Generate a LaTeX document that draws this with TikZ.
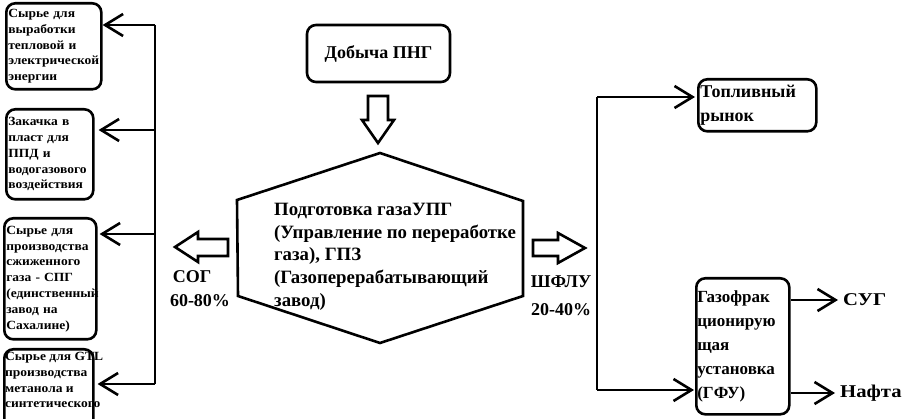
\documentclass[tikz,border=0pt]{standalone}
\usepackage{fontspec}
\setmainfont{Liberation Serif}
\newfontfamily\wideA[FakeStretch=1.15]{Liberation Serif}
\newfontfamily\wideB[FakeStretch=1.08]{Liberation Serif}
\usetikzlibrary{arrows.meta}
\begin{document}
\begin{tikzpicture}[x=1pt,y=-1pt,
  box/.style={draw, line width=2.6pt, rounded corners=9pt, inner sep=2pt, align=left, font=\bfseries},
  small/.style={font=\wideB\bfseries\fontsize{12.5}{15.8}\selectfont},
  big/.style={font=\bfseries\fontsize{18}{24}\selectfont},
  lbl/.style={font=\bfseries\fontsize{18}{24}\selectfont, inner sep=0pt, align=left},
  conn/.style={line width=2.6pt, -{Straight Barb[length=18pt,width=22pt,line width=2.6pt]}},
  hollow/.style={draw, line width=2.6pt, fill=white, line join=miter}]
\useasboundingbox (0,0) rectangle (902,419);

% left boxes
\node[box, small, text width=91, minimum height=86, anchor=north west] (b1) at (5,2)
  {Сырье для\\выработки\\тепловой и\\электрической\\энергии};
\node[box, small, text width=83, minimum height=90, anchor=north west] (b2) at (5,108)
  {Закачка в\\пласт для\\ППД и\\водогазового\\воздействия};
\node[box, small, text width=88, minimum height=121, anchor=north west] (b3) at (3,217)
  {Сырье для\\производства\\сжиженного\\газа - СПГ\\(единственный\\завод на\\Сахалине)};
\node[box, minimum width=89, minimum height=110, anchor=north west] (b4) at (3,348) {};
\node[small, inner sep=0pt, align=left, anchor=north west] (t4) at (5,352)
  {Сырье для GTL\\производства\\метанола и\\синтетического};

% top box
\node[box, font=\bfseries\fontsize{18}{20}\selectfont, minimum width=143, minimum height=57, align=center] (dob) at (378.5,53.5) {Добыча ПНГ};

% down hollow arrow
\draw[hollow] (368,96) -- (388,96) -- (388,120) -- (394,120) -- (378,143) -- (362,120) -- (368,120) -- cycle;

% hexagon
\coordinate (h1) at (380,153);
\coordinate (h2) at (523,201);
\coordinate (h3) at (523,296);
\coordinate (h4) at (380,343);
\coordinate (h5) at (238,296);
\coordinate (h6) at (237,200);
\draw[line width=2.6pt, line join=miter] (h1) -- (h2) -- (h3) -- (h4) -- (h5) -- (h6) -- cycle;
\node[font=\bfseries\fontsize{18.8}{22.7}\selectfont, inner sep=0pt, align=left, anchor=north west] (hex) at (274,203)
  {Подготовка газаУПГ\\(Управление по переработке\\газа), ГПЗ\\(Газоперерабатывающий\\завод)};

% left hollow arrow
\draw[hollow] (228,239) -- (228,256) -- (198,256) -- (198,262) -- (175,247) -- (198,232) -- (198,239) -- cycle;
\node[lbl, anchor=north] (sog) at (192,270) {СОГ};
\node[lbl, anchor=north] (pct1) at (200,294) {60-80\%};

% right hollow arrow
\draw[hollow] (533,240) -- (558,240) -- (558,233) -- (585,248) -- (558,263) -- (558,256) -- (533,256) -- cycle;
\node[lbl, anchor=north] (shf) at (561,276) {ШФЛУ};
\node[lbl, anchor=north] (pct2) at (561,303) {20-40\%};

% left tree
\coordinate (l1) at (155,25);
\coordinate (l2) at (155,130);
\coordinate (l3) at (155,234);
\coordinate (l4) at (155,384);
\draw[line width=2.6pt] (l1) -- (l4);
\draw[conn] (l1) -- (l1 -| b1.east);
\draw[conn] (l2) -- ([xshift=4pt]l2 -| b2.east);
\draw[conn] (l3) -- ([xshift=2pt]l3 -| b3.east);
\draw[conn] (l4) -- ([xshift=3pt]l4 -| b4.east);

% right boxes
\node[box, big, text width=114, minimum height=52, anchor=north west] (top) at (697,78)
  {Топливный\\рынок};
\node[box, font=\bfseries\fontsize{17}{24}\selectfont, text width=91, minimum height=136, anchor=north west, inner sep=1pt] (gfu) at (695,277)
  {Газофрак\\ционирую\\щая\\установка\\(ГФУ)};

\coordinate (r1) at (597,97);
\coordinate (r2) at (597,390);
\draw[line width=2.6pt] (r1) -- (r2);
\draw[conn] (r1) -- ([xshift=-2pt]r1 -| top.west);
\draw[conn] (r2) -- ([xshift=-1pt]r2 -| gfu.west);

\node[lbl, font=\wideA\bfseries\fontsize{18}{24}\selectfont, anchor=west] (sug) at (843,300) {СУГ};
\node[lbl, font=\wideA\bfseries\fontsize{18}{24}\selectfont, anchor=west] (naf) at (840,393) {Нафта};
\draw[conn] (gfu.east |- sug.west) -- ([xshift=-5pt]sug.west);
\draw[conn] (gfu.east |- naf.west) -- ([xshift=-5pt]naf.west);
\end{tikzpicture}
\end{document}
